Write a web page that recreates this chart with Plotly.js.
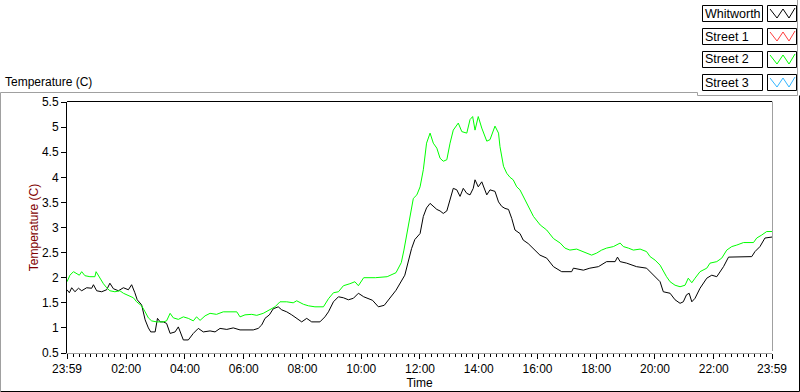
<!DOCTYPE html>
<html>
<head>
<meta charset="utf-8">
<script src="https://cdn.plot.ly/plotly-3.0.1.min.js"></script>
<style>html,body{margin:0;padding:0;background:#fff;}#chart{width:800px;height:392px;}</style>
</head>
<body>
<div id="chart"></div>
<script>
// Hours elapsed since 23:59 of the previous day
const whitworthTime = [0,0.08,0.16,0.27,0.39,0.50,0.67,0.84,0.90,1.01,1.18,1.35,1.46,1.58,1.75,1.92,2.09,2.20,2.31,2.39,2.54,2.66,2.77,2.85,3.00,3.08,3.17,3.28,3.39,3.51,3.68,3.79,3.96,4.13,4.30,4.47,4.64,4.87,5.04,5.21,5.44,5.66,5.89,6.12,6.34,6.51,6.63,6.74,6.89,7.02,7.19,7.31,7.48,7.65,7.82,7.99,8.16,8.33,8.61,8.78,8.90,9.07,9.24,9.41,9.58,9.75,9.92,10.10,10.40,10.60,10.80,11.00,11.20,11.50,11.62,11.73,11.84,12.02,12.13,12.24,12.36,12.47,12.59,12.70,12.81,12.93,13.04,13.15,13.27,13.38,13.49,13.61,13.72,13.83,13.89,14.00,14.12,14.29,14.40,14.57,14.69,14.80,14.91,15.03,15.14,15.25,15.42,15.53,15.70,15.88,16.10,16.33,16.56,16.84,17.18,17.24,17.58,17.80,18.09,18.37,18.66,18.74,18.83,19.05,19.39,19.73,19.85,20.02,20.19,20.30,20.53,20.70,20.87,20.98,21.09,21.18,21.27,21.38,21.55,21.78,21.95,22.12,22.35,22.52,22.91,23.31,23.42,23.59,23.76,24.00];
const whitworthTemp = [1.76,1.70,1.80,1.72,1.79,1.74,1.80,1.79,1.86,1.74,1.72,1.76,1.89,1.78,1.74,1.80,1.76,1.86,1.70,1.56,1.46,1.16,1.00,0.92,0.92,1.19,1.12,1.12,1.09,0.89,0.92,1.02,0.76,0.76,0.89,0.99,0.92,0.94,0.92,0.99,0.97,1.00,0.96,0.96,0.96,0.99,1.06,1.19,1.26,1.38,1.42,1.36,1.32,1.26,1.19,1.12,1.19,1.12,1.12,1.22,1.32,1.52,1.62,1.60,1.56,1.59,1.69,1.62,1.55,1.42,1.45,1.60,1.75,2.05,2.35,2.58,2.76,2.88,3.22,3.39,3.48,3.42,3.36,3.33,3.28,3.33,3.58,3.78,3.75,3.62,3.78,3.68,3.65,3.78,3.95,3.81,3.91,3.65,3.75,3.72,3.51,3.42,3.38,3.36,3.18,2.95,2.88,2.75,2.68,2.58,2.45,2.39,2.22,2.12,2.12,2.19,2.15,2.19,2.22,2.32,2.32,2.41,2.32,2.29,2.22,2.19,2.12,2.02,1.92,1.72,1.69,1.56,1.49,1.52,1.66,1.69,1.52,1.59,1.79,1.99,2.05,2.02,2.22,2.41,2.41,2.42,2.52,2.62,2.79,2.81];

const street2Time = [0,0.10,0.22,0.33,0.42,0.50,0.61,0.78,0.95,0.99,1.12,1.24,1.35,1.46,1.63,1.80,1.92,2.09,2.26,2.37,2.54,2.66,2.77,2.88,3.05,3.28,3.39,3.51,3.62,3.79,3.96,4.13,4.30,4.41,4.53,4.70,4.87,5.09,5.32,5.55,5.78,5.89,6.06,6.29,6.46,6.68,6.91,7.08,7.25,7.48,7.70,7.82,8.05,8.22,8.44,8.73,8.90,9.07,9.24,9.41,9.63,9.80,9.92,10.10,10.50,10.90,11.20,11.38,11.47,11.56,11.68,11.79,11.91,12.02,12.13,12.24,12.36,12.47,12.59,12.70,12.81,12.93,13.04,13.15,13.32,13.44,13.61,13.72,13.81,13.89,14.00,14.12,14.29,14.40,14.57,14.69,14.74,14.86,14.97,15.08,15.19,15.31,15.42,15.53,15.65,15.76,15.88,16.11,16.33,16.56,16.79,16.95,17.12,17.35,17.58,17.86,18.03,18.20,18.37,18.60,18.83,18.94,19.11,19.28,19.51,19.73,19.85,20.02,20.19,20.30,20.41,20.53,20.70,20.87,21.04,21.15,21.27,21.38,21.55,21.78,21.89,22.12,22.29,22.46,22.63,22.80,23.03,23.37,23.48,23.65,23.82,24.00];
const street2Temp = [1.92,2.05,2.12,2.08,2.05,2.12,2.04,2.02,2.02,2.12,1.99,1.88,1.80,1.74,1.72,1.74,1.69,1.64,1.60,1.52,1.44,1.32,1.20,1.14,1.12,1.12,1.14,1.29,1.20,1.17,1.22,1.19,1.14,1.22,1.15,1.24,1.29,1.27,1.32,1.32,1.32,1.22,1.26,1.27,1.25,1.29,1.36,1.42,1.52,1.52,1.50,1.54,1.47,1.44,1.42,1.42,1.58,1.70,1.72,1.84,1.88,1.92,1.84,2.00,2.00,2.02,2.10,2.30,2.55,2.82,3.22,3.58,3.65,3.81,4.15,4.68,4.88,4.68,4.58,4.38,4.32,4.35,4.68,4.94,5.08,4.91,4.88,5.15,5.21,4.94,5.21,4.98,4.72,4.75,5.02,4.88,4.61,4.22,4.08,4.00,3.95,3.81,3.75,3.62,3.48,3.36,3.22,3.05,2.95,2.78,2.69,2.59,2.55,2.57,2.52,2.45,2.49,2.55,2.59,2.62,2.69,2.62,2.59,2.55,2.57,2.52,2.42,2.35,2.25,2.12,2.02,1.92,1.85,1.82,1.85,1.99,1.90,1.99,2.12,2.19,2.29,2.32,2.39,2.55,2.62,2.65,2.70,2.70,2.79,2.85,2.92,2.92];

const seriesNames = ['Whitworth','Street 1','Street 2','Street 3'];
const seriesColors = ['#000000','#ff3c3c','#00ff00','#33b5ff'];

const tickVals = [0,2+1/60,4+1/60,6+1/60,8+1/60,10+1/60,12+1/60,14+1/60,16+1/60,18+1/60,20+1/60,22+1/60,24];
const tickText = ['23:59','02:00','04:00','06:00','08:00','10:00','12:00','14:00','16:00','18:00','20:00','22:00','23:59'];
const yTickVals = [0.5,1,1.5,2,2.5,3,3.5,4,4.5,5,5.5];
const yTickText = ['0.5','1','1.5','2','2.5','3','3.5','4','4.5','5','5.5'];

const FONT = 'Liberation Sans, Arial, sans-serif';
const L = 67, R = 772, T = 102, B = 353, W = 800, H = 392;
const px = x => (x - L) / (R - L);
const py = y => (B - y) / (B - T);

const traces = [
  {x: whitworthTime, y: whitworthTemp, name: seriesNames[0], mode: 'lines', line: {color: seriesColors[0], width: 1}, showlegend: false, hoverinfo: 'skip'},
  {x: [], y: [], name: seriesNames[1], mode: 'lines', line: {color: seriesColors[1], width: 1}, showlegend: false},
  {x: street2Time, y: street2Temp, name: seriesNames[2], mode: 'lines', line: {color: seriesColors[2], width: 1}, showlegend: false, hoverinfo: 'skip'},
  {x: [], y: [], name: seriesNames[3], mode: 'lines', line: {color: seriesColors[3], width: 1}, showlegend: false}
];

const shapes = [];
const annotations = [];
function line(x0, y0, x1, y1, color) {
  shapes.push({type: 'line', xref: 'paper', yref: 'paper', x0: px(x0), y0: py(y0), x1: px(x1), y1: py(y1), line: {color: color, width: 1}});
}
// outer frame
line(0.5, 92.5, 697.5, 92.5, '#a0a0a0');
line(0.5, 92.5, 0.5, 391, '#a0a0a0');
line(0.5, 391.5, 799.5, 391.5, '#000');
line(799.5, 95.5, 799.5, 391.5, '#000');
// legend frame
line(697.5, 92.5, 697.5, 95.5, '#a0a0a0');
line(697.5, 95.5, 797.5, 95.5, '#a0a0a0');
line(797.5, 0, 797.5, 95.5, '#a0a0a0');
// plot border (top and right)
line(67, 101.5, 772, 101.5, '#000');
line(772.5, 101.5, 772.5, 351, '#a0a0a0');

// legend entries
seriesNames.forEach((name, i) => {
  const top = 5 + 23 * i, bot = top + 16;
  shapes.push({type: 'rect', xref: 'paper', yref: 'paper', x0: px(702.5), x1: px(762.5), y0: py(top + 0.5), y1: py(bot + 0.5), line: {color: '#000', width: 1}, fillcolor: '#fff'});
  shapes.push({type: 'rect', xref: 'paper', yref: 'paper', x0: px(767.5), x1: px(796.5), y0: py(top + 0.5), y1: py(bot + 0.5), line: {color: '#000', width: 1}, fillcolor: '#fff'});
  const zx = [770, 777, 783, 789, 795], zy = [top + 4, bot - 3, top + 4, bot - 3, top + 3];
  let path = 'M ' + px(zx[0]) + ' ' + py(zy[0]);
  for (let k = 1; k < zx.length; k++) path += ' L ' + px(zx[k]) + ' ' + py(zy[k]);
  shapes.push({type: 'path', xref: 'paper', yref: 'paper', path: path, line: {color: seriesColors[i], width: 1}});
  annotations.push({xref: 'paper', yref: 'paper', x: px(703), y: py(top + 8.5), xanchor: 'left', yanchor: 'middle', text: name, showarrow: false, font: {family: FONT, size: 12.5, color: '#000'}});
});

const layout = {
  width: W, height: H,
  margin: {l: L, r: W - R, t: T, b: H - B, pad: 0},
  paper_bgcolor: '#fff', plot_bgcolor: '#fff',
  font: {family: FONT, size: 12, color: '#000'},
  showlegend: false,
  title: {text: 'Temperature (C)', x: 5 / W, xanchor: 'left', y: 1 - 82 / H, yanchor: 'middle', font: {family: FONT, size: 12, color: '#000'}},
  xaxis: {
    range: [0, 24], tickmode: 'array', tickvals: tickVals, ticktext: tickText,
    ticks: 'outside', ticklen: 5, tickcolor: '#000', tickwidth: 1,
    showgrid: false, zeroline: false, showline: true, linecolor: '#a0a0a0', linewidth: 1,
    minor: {ticks: 'outside', ticklen: 3, tickcolor: '#000', tick0: 2 + 1/60, dtick: 0.2, showgrid: false},
    tickfont: {family: FONT, size: 12, color: '#000'},
    title: {text: 'Time', standoff: 2, font: {family: FONT, size: 12, color: '#000'}}
  },
  yaxis: {
    range: [0.5, 5.5], tickmode: 'array', tickvals: yTickVals, ticktext: yTickText,
    ticks: 'outside', ticklen: 5, tickcolor: '#000', tickwidth: 1,
    showgrid: false, zeroline: false, showline: true, linecolor: '#000', linewidth: 1,
    tickfont: {family: FONT, size: 12, color: '#000'},
    title: {text: 'Temperature (C)', standoff: 0, font: {family: FONT, size: 12, color: '#800000'}}
  },
  shapes: shapes,
  annotations: annotations
};

Plotly.newPlot('chart', traces, layout, {staticPlot: true, displayModeBar: false});
</script>
</body>
</html>
